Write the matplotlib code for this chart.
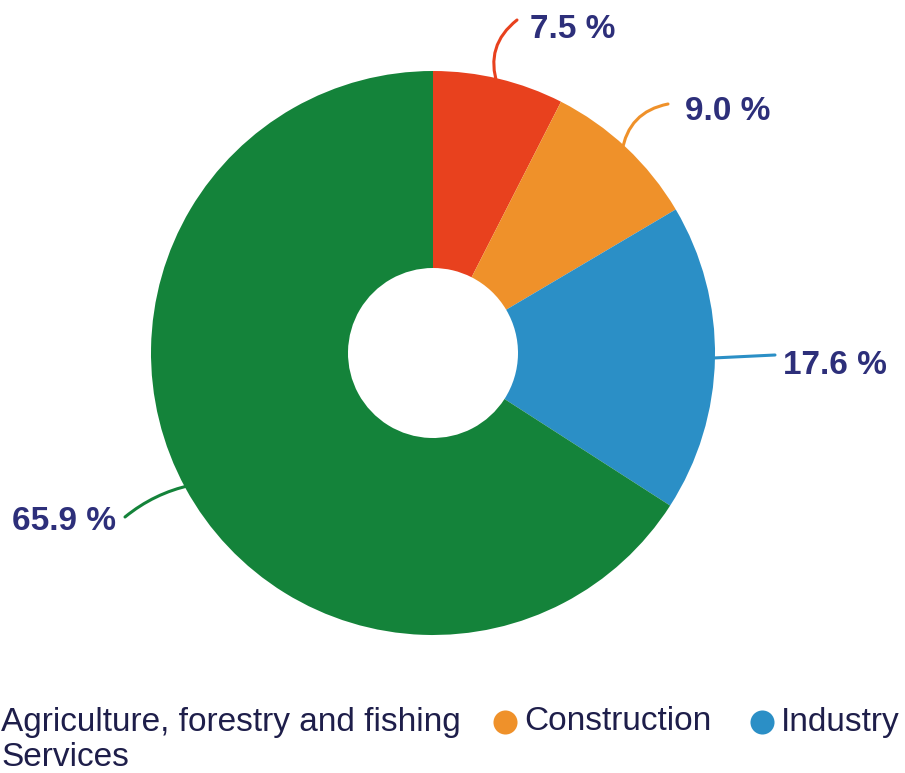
import matplotlib
matplotlib.use("Agg")
import matplotlib.pyplot as plt
import numpy as np

categories = ["Agriculture, forestry and fishing", "Construction", "Industry", "Services"]
values = [7.5, 9.0, 17.6, 65.9]
colors = ["#E8411E", "#EF912A", "#2B8FC6", "#14833A"]
label_texts = ["7.5 %", "9.0 %", "17.6 %", "65.9 %"]

W, H = 905, 773
fig = plt.figure(figsize=(W / 100, H / 100), dpi=100)
ax = fig.add_axes([0, 0, 1, 1])

cx, cy = 433, H - 353
R, r_in = 282, 85
wedges, _ = ax.pie(values, colors=colors, startangle=90, counterclock=False,
                   radius=R, center=(cx, cy),
                   wedgeprops=dict(width=R - r_in, linewidth=0))
ax.set_xlim(0, W)
ax.set_ylim(0, H)
ax.set_aspect("equal")
ax.axis("off")

text_color = "#2D2F7A"
font = ["Liberation Sans", "DejaVu Sans"]

# label placement: (text x, text y in px from top, ha, connector rad, connector end)
label_layout = [
    (530, 30, "left", -0.35, (517, 20)),
    (685, 112, "left", -0.35, (668, 104)),
    (783, 366, "left", 0.0, (775, 355)),
    (116, 521, "right", 0.12, (125, 517)),
]
for w, txt, col, (tx, ty, ha, rad, end) in zip(wedges, label_texts, colors, label_layout):
    ang = np.deg2rad((w.theta1 + w.theta2) / 2)
    sx = cx + (R - 6) * np.cos(ang)
    sy = cy + (R - 6) * np.sin(ang)
    ax.annotate("", xy=(end[0], H - end[1]), xytext=(sx, sy),
                arrowprops=dict(arrowstyle="-", color=col, lw=2.2,
                                connectionstyle=f"arc3,rad={rad}",
                                shrinkA=0, shrinkB=0))
    ax.text(tx, H - ty, txt, ha=ha, va="center", fontsize=24, fontweight="bold",
            color=text_color, family=font)

# legend (manually laid out; first-column markers fall off the left edge as in reference)
legend_pos = [(-18, 722), (505, 722), (762, 722), (-18, 758)]
legend_color = "#1E1E4A"
for cat, col, (lx, ly) in zip(categories, colors, legend_pos):
    ax.scatter([lx], [H - ly], s=300, color=col, clip_on=False, linewidths=0)
    ax.text(lx + 19, H - ly, cat, ha="left", va="center", fontsize=24,
            color=legend_color, family=font)

fig.savefig("out.png", dpi=100)
